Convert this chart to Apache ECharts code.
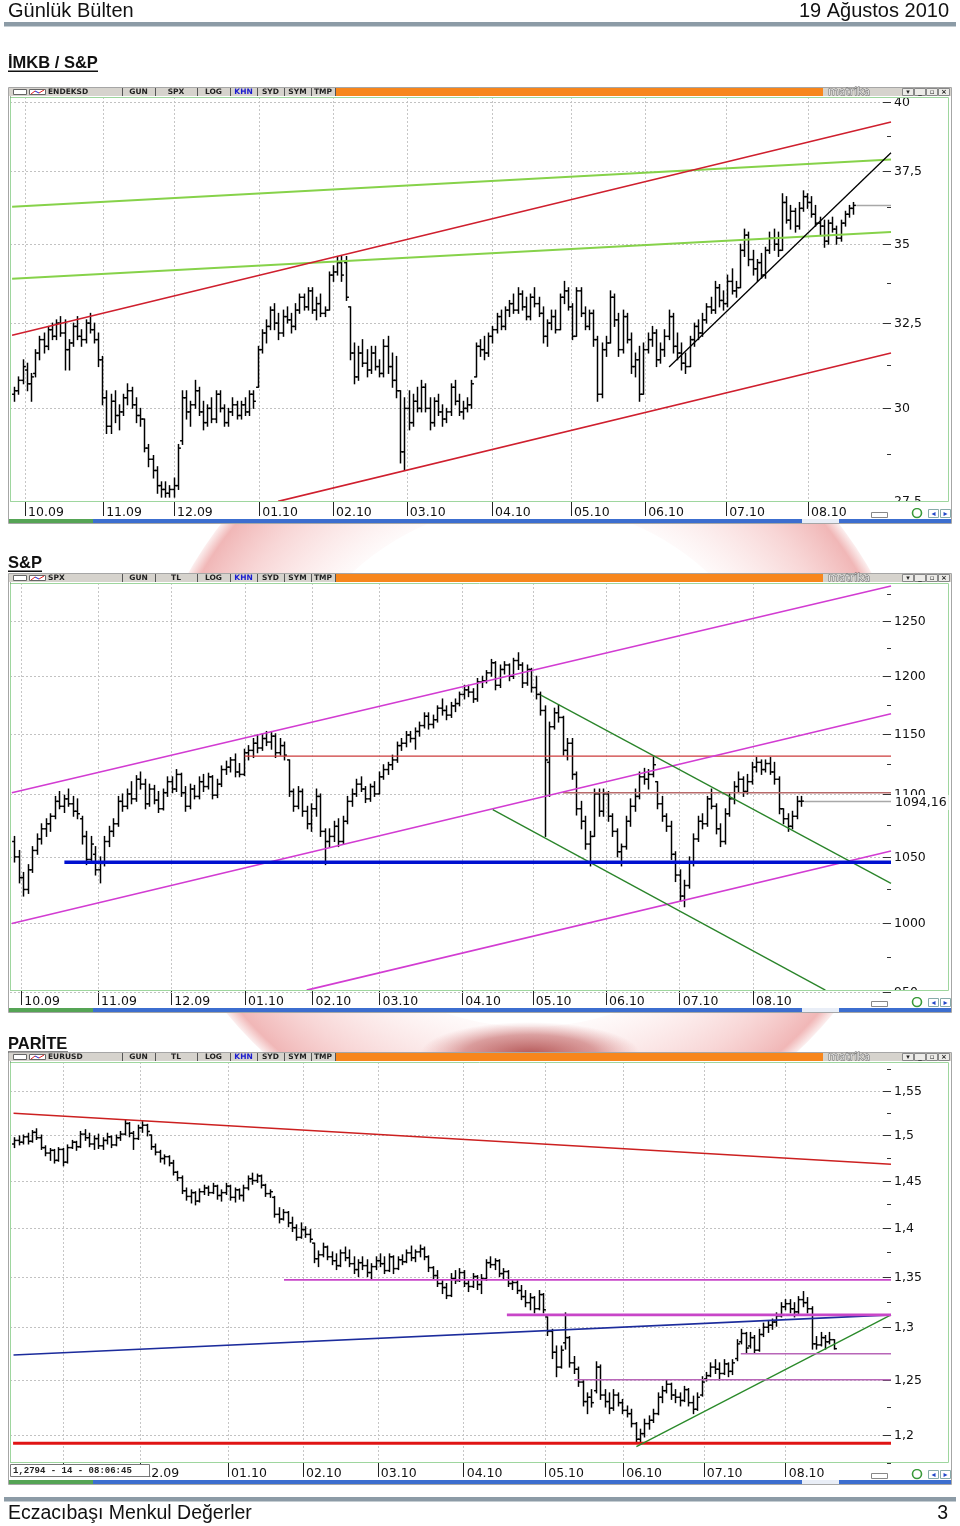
<!DOCTYPE html>
<html>
<head>
<meta charset="utf-8">
<script src="https://cdn.jsdelivr.net/npm/echarts@6/dist/echarts.min.js"></script>
<style>
html, body { margin: 0; padding: 0; background: #fff; }
#page { width: 960px; height: 1526px; }
</style>
</head>
<body>
<div id="page"></div>
<script>
// İMKB / S&P oranı, günlük bar [açılış, yüksek, düşük, kapanış]
var imkbBars = [
[30.4,30.6,30.2,30.5],[30.5,30.9,30.4,30.8],[30.8,31.4,30.7,31.2],[31.1,31.3,30.5,30.7],[30.7,31.0,30.2,30.9],
[31.0,31.7,30.9,31.6],[31.6,32.1,31.4,32.0],[32.0,32.2,31.6,31.8],[31.8,32.4,31.7,32.3],[32.3,32.5,32.0,32.1],
[32.1,32.6,32.0,32.5],[32.5,32.7,32.1,32.2],[32.2,32.6,31.1,31.7],[31.7,32.0,31.1,31.9],[31.9,32.5,31.8,32.4],
[32.4,32.7,32.0,32.1],[32.1,32.3,31.8,32.0],[32.0,32.6,31.9,32.5],[32.5,32.8,32.2,32.3],[32.3,32.5,31.9,32.0],
[32.0,32.2,31.2,31.4],[31.4,31.5,30.1,30.3],[30.3,30.5,29.3,29.5],[29.5,30.4,29.3,30.2],[30.2,30.5,29.6,29.8],
[29.8,30.1,29.4,29.9],[29.9,30.4,29.8,30.3],[30.3,30.7,30.1,30.5],[30.5,30.6,30.0,30.1],[30.1,30.3,29.6,29.8],
[29.8,30.0,29.5,29.7],[29.7,29.7,28.8,28.9],[28.9,29.0,28.4,28.6],[28.6,28.7,28.1,28.3],[28.3,28.4,27.7,27.9],
[27.9,28.0,27.6,27.8],[27.8,28.0,27.6,27.7],[27.7,27.9,27.6,27.8],[27.8,28.1,27.6,27.9],[27.9,29.0,27.8,28.9],
[29.1,30.5,29.0,30.3],[30.3,30.5,29.7,29.9],[29.9,30.2,29.5,30.1],[30.1,30.8,30.0,30.5],[30.5,30.6,29.8,29.9],
[29.9,30.2,29.4,29.6],[29.6,30.1,29.5,30.0],[30.0,30.3,29.6,29.7],[29.7,30.5,29.6,30.4],[30.4,30.5,29.9,30.0],
[30.0,30.1,29.5,29.6],[29.6,30.0,29.5,29.9],[29.9,30.3,29.8,30.1],[30.1,30.2,29.7,29.8],[29.8,30.2,29.7,30.1],
[30.1,30.3,29.8,29.9],[29.9,30.5,29.8,30.4],[30.4,30.5,30.0,30.2],[30.6,31.8,30.6,31.7],[31.7,32.3,31.6,32.2],
[32.2,32.6,31.9,32.4],[32.4,33.0,32.3,32.9],[32.9,33.1,32.3,32.5],[32.5,32.8,32.0,32.2],[32.2,32.9,32.1,32.7],
[32.7,33.0,32.5,32.6],[32.6,32.8,32.2,32.4],[32.4,33.1,32.3,32.9],[32.9,33.4,32.8,33.3],[33.3,33.4,32.9,33.0],
[33.0,33.6,32.9,33.5],[33.5,33.6,32.8,32.9],[32.9,33.3,32.6,33.1],[33.1,33.4,32.7,32.8],[32.8,33.0,32.7,32.9],
[32.9,34.1,32.9,34.0],[34.0,34.3,33.8,34.1],[34.1,34.6,34.0,34.4],[34.4,34.6,33.8,34.0],[34.4,34.6,33.2,33.3],
[33.0,33.0,31.4,31.6],[31.6,31.9,30.7,30.9],[30.9,31.8,30.8,31.6],[31.6,32.0,31.2,31.3],[31.3,31.7,30.9,31.1],
[31.1,31.8,31.0,31.6],[31.6,31.8,31.1,31.2],[31.2,31.4,30.9,31.0],[31.0,32.0,30.9,31.8],[31.8,32.1,31.0,31.2],
[31.2,31.6,30.6,30.8],[30.8,31.5,30.3,30.5],[30.5,30.5,28.5,28.8],[28.8,30.3,28.3,30.0],[30.0,30.5,29.4,29.6],
[29.6,30.4,29.5,30.2],[30.2,30.6,29.9,30.0],[30.0,30.8,29.9,30.6],[30.6,30.7,29.9,30.0],[30.0,30.3,29.4,29.6],
[29.6,30.3,29.5,30.2],[30.2,30.4,29.8,29.9],[29.9,30.1,29.5,29.7],[29.7,30.0,29.6,29.9],[29.9,30.7,29.8,30.6],
[30.6,30.8,30.1,30.2],[30.2,30.4,29.8,29.9],[29.9,30.2,29.7,30.0],[30.0,30.3,29.9,30.1],[30.1,30.8,30.0,30.7],
[30.9,31.9,30.9,31.8],[31.8,32.0,31.5,31.7],[31.7,32.1,31.4,31.6],[31.6,32.2,31.5,32.1],[32.1,32.4,31.9,32.3],
[32.3,32.8,32.2,32.7],[32.7,32.9,32.3,32.4],[32.4,33.0,32.3,32.9],[32.9,33.2,32.7,33.1],[33.1,33.4,32.8,32.9],
[32.9,33.6,32.8,33.4],[33.4,33.5,32.9,33.0],[33.0,33.3,32.6,32.7],[32.7,33.4,32.6,33.3],[33.3,33.6,33.0,33.1],
[33.1,33.3,32.7,32.8],[32.8,33.0,31.9,32.1],[32.1,32.6,31.8,32.5],[32.5,32.9,32.3,32.7],[32.7,32.9,32.2,32.3],
[32.3,33.4,32.3,33.3],[33.3,33.8,33.1,33.5],[33.5,33.6,32.9,33.0],[33.0,33.1,32.0,32.1],[32.1,33.6,32.1,33.5],
[33.5,33.6,32.7,32.8],[32.8,33.0,32.3,32.4],[32.4,32.9,32.3,32.8],[32.8,32.9,31.8,32.0],[32.0,32.1,30.2,30.4],
[30.4,31.9,30.3,31.7],[31.7,32.1,31.5,31.9],[31.9,33.5,31.9,33.3],[33.3,33.4,32.4,32.6],[32.6,32.8,31.5,31.7],
[31.7,32.9,31.6,32.7],[32.7,32.8,31.9,32.0],[32.0,32.2,31.0,31.2],[31.2,31.6,30.9,31.4],[31.4,31.8,30.2,30.4],
[30.4,31.9,30.4,31.7],[31.7,32.2,31.6,32.0],[32.0,32.4,31.8,32.2],[32.2,32.3,31.2,31.4],[31.4,31.9,31.3,31.7],
[31.7,32.3,31.5,32.1],[32.1,32.9,32.0,32.7],[32.7,32.8,31.6,31.8],[31.8,32.2,31.4,31.6],[31.6,31.9,31.1,31.3],
[31.3,31.6,31.0,31.2],[31.2,32.1,31.2,32.0],[32.0,32.5,31.8,32.4],[32.4,32.6,32.0,32.2],[32.2,32.8,32.1,32.6],
[32.6,33.1,32.5,33.0],[33.0,33.3,32.8,32.9],[32.9,33.8,32.8,33.6],[33.6,33.7,33.0,33.2],[33.2,33.5,32.9,33.1],
[33.1,34.0,33.0,33.8],[33.8,34.2,33.4,33.5],[33.5,33.8,33.3,33.6],[33.6,35.0,33.6,34.8],[34.8,35.5,34.6,35.3],
[35.3,35.4,34.3,34.5],[34.5,34.8,34.0,34.2],[34.2,34.5,33.8,34.4],[34.4,34.7,33.9,34.0],[34.0,34.9,33.9,34.8],
[34.8,35.4,34.7,35.2],[35.2,35.5,34.8,35.0],[35.0,35.4,34.6,34.8],[34.8,36.7,34.8,36.4],[36.4,36.6,35.7,35.8],
[35.8,36.3,35.5,36.1],[36.1,36.2,35.4,35.6],[35.6,36.4,35.5,36.2],[36.2,36.8,36.1,36.6],[36.6,36.7,36.2,36.4],
[36.4,36.6,35.9,36.0],[36.0,36.3,35.6,35.7],[35.7,35.9,35.3,35.6],[35.6,35.8,34.9,35.1],[35.1,35.8,35.0,35.7],
[35.7,35.9,35.4,35.5],[35.5,35.6,35.0,35.2],[35.2,35.8,35.1,35.7],[35.7,36.1,35.6,36.0],[36.0,36.3,35.9,36.2],
[36.2,36.4,36.0,36.3]
];

// S&P 500 günlük bar
var spxBars = [
[1062,1066,1046,1050],[1050,1055,1030,1034],[1034,1038,1020,1025],[1025,1044,1022,1040],[1040,1058,1038,1055],
[1055,1068,1052,1064],[1064,1076,1060,1072],[1072,1080,1066,1076],[1076,1084,1070,1082],[1082,1098,1080,1094],
[1094,1102,1088,1090],[1090,1099,1085,1096],[1096,1104,1090,1092],[1092,1098,1082,1086],[1086,1096,1080,1084],
[1080,1082,1060,1066],[1066,1070,1044,1048],[1048,1066,1046,1060],[1052,1058,1036,1040],[1040,1050,1030,1045],
[1045,1066,1043,1062],[1062,1074,1058,1070],[1070,1080,1066,1076],[1076,1098,1074,1094],[1094,1100,1086,1090],
[1090,1104,1088,1100],[1100,1110,1092,1096],[1096,1115,1094,1112],[1112,1118,1104,1108],[1108,1112,1088,1092],
[1092,1108,1090,1104],[1104,1107,1092,1095],[1095,1102,1085,1088],[1088,1104,1087,1101],[1101,1114,1098,1110],
[1110,1114,1101,1104],[1104,1120,1102,1116],[1116,1117,1098,1101],[1101,1106,1086,1090],[1090,1108,1088,1104],
[1104,1107,1096,1098],[1098,1114,1096,1110],[1110,1116,1102,1106],[1106,1117,1104,1114],[1114,1115,1096,1099],
[1099,1112,1097,1108],[1108,1123,1106,1120],[1120,1127,1116,1122],[1122,1130,1118,1128],[1128,1133,1114,1118],
[1118,1125,1114,1116],[1116,1137,1115,1134],[1134,1140,1128,1136],[1136,1146,1130,1142],[1142,1149,1134,1138],
[1138,1150,1136,1146],[1146,1152,1140,1143],[1143,1152,1137,1148],[1148,1150,1130,1134],[1134,1146,1132,1140],
[1140,1143,1128,1132],[1128,1128,1098,1102],[1102,1104,1086,1090],[1090,1106,1088,1102],[1102,1104,1082,1086],
[1086,1090,1072,1076],[1076,1092,1070,1088],[1088,1104,1082,1098],[1098,1100,1066,1070],[1070,1072,1044,1062],
[1062,1072,1058,1066],[1066,1078,1062,1074],[1074,1080,1058,1062],[1062,1082,1060,1078],[1078,1098,1076,1094],
[1094,1104,1090,1100],[1100,1112,1098,1108],[1108,1114,1102,1104],[1104,1106,1093,1096],[1096,1108,1094,1106],
[1106,1110,1098,1100],[1100,1118,1100,1114],[1114,1124,1112,1120],[1120,1126,1116,1124],[1124,1132,1120,1128],
[1128,1143,1126,1140],[1140,1146,1136,1142],[1142,1152,1139,1149],[1149,1152,1143,1146],[1146,1155,1137,1152],
[1152,1160,1148,1157],[1157,1168,1155,1165],[1165,1168,1154,1158],[1158,1166,1155,1162],[1162,1174,1160,1172],
[1172,1180,1166,1170],[1170,1174,1162,1166],[1166,1177,1164,1174],[1174,1180,1169,1176],[1176,1186,1174,1184],
[1184,1192,1180,1188],[1188,1192,1182,1186],[1186,1189,1177,1180],[1180,1198,1178,1195],[1195,1200,1190,1196],
[1196,1205,1194,1203],[1203,1215,1200,1212],[1212,1213,1188,1192],[1192,1210,1190,1206],[1206,1213,1202,1210],
[1210,1211,1196,1200],[1200,1216,1198,1214],[1214,1221,1206,1210],[1210,1212,1190,1194],[1194,1210,1192,1206],
[1206,1207,1186,1190],[1190,1200,1180,1184],[1184,1186,1166,1170],[1170,1174,1066,1128],[1126,1160,1098,1156],
[1156,1172,1154,1168],[1168,1175,1160,1164],[1164,1165,1132,1136],[1136,1146,1128,1142],[1142,1146,1112,1116],
[1116,1118,1083,1088],[1088,1094,1072,1078],[1078,1082,1056,1060],[1060,1070,1043,1066],[1066,1104,1066,1100],
[1100,1104,1082,1086],[1086,1104,1082,1100],[1100,1102,1078,1082],[1082,1084,1066,1070],[1070,1072,1050,1054],
[1054,1060,1043,1058],[1058,1082,1056,1078],[1078,1096,1074,1090],[1090,1104,1086,1098],[1098,1118,1096,1114],
[1114,1121,1108,1112],[1112,1120,1104,1116],[1116,1131,1114,1124],[1110,1110,1088,1092],[1092,1098,1078,1082],
[1082,1084,1070,1074],[1074,1078,1048,1052],[1052,1054,1031,1036],[1036,1040,1016,1020],[1020,1032,1012,1028],
[1028,1050,1026,1046],[1046,1068,1043,1064],[1064,1082,1062,1078],[1078,1084,1072,1076],[1076,1098,1074,1096],
[1096,1104,1088,1090],[1090,1092,1068,1072],[1072,1076,1058,1062],[1062,1088,1060,1084],[1084,1100,1082,1096],
[1096,1110,1092,1106],[1106,1118,1102,1112],[1112,1114,1098,1102],[1102,1116,1100,1110],[1110,1126,1108,1122],
[1122,1130,1118,1126],[1126,1128,1116,1120],[1120,1128,1118,1125],[1125,1130,1116,1118],[1118,1126,1108,1112],
[1112,1114,1084,1088],[1088,1088,1076,1080],[1080,1084,1070,1074],[1074,1086,1072,1082],[1082,1098,1080,1094],
[1094,1098,1090,1094.16]
];

// EUR/USD günlük bar
var eurBars = [
[1.490,1.497,1.486,1.494],[1.494,1.499,1.489,1.492],[1.492,1.500,1.490,1.498],[1.498,1.502,1.490,1.493],[1.493,1.505,1.492,1.503],
[1.503,1.507,1.495,1.497],[1.497,1.500,1.484,1.486],[1.486,1.488,1.477,1.480],[1.480,1.485,1.472,1.483],[1.483,1.484,1.469,1.472],
[1.472,1.486,1.471,1.484],[1.484,1.485,1.466,1.470],[1.470,1.489,1.469,1.486],[1.486,1.494,1.485,1.492],[1.492,1.493,1.483,1.487],
[1.487,1.504,1.486,1.501],[1.501,1.506,1.494,1.497],[1.497,1.502,1.487,1.490],[1.490,1.499,1.484,1.496],[1.496,1.501,1.485,1.488],
[1.488,1.497,1.484,1.494],[1.494,1.502,1.490,1.498],[1.498,1.499,1.486,1.489],[1.489,1.500,1.488,1.497],[1.497,1.504,1.494,1.501],
[1.501,1.517,1.500,1.513],[1.513,1.514,1.498,1.502],[1.502,1.504,1.484,1.496],[1.496,1.511,1.495,1.508],[1.508,1.515,1.503,1.511],
[1.511,1.512,1.499,1.504],[1.500,1.500,1.484,1.487],[1.487,1.490,1.478,1.481],[1.481,1.483,1.470,1.474],[1.474,1.478,1.468,1.476],
[1.476,1.477,1.466,1.469],[1.469,1.472,1.456,1.459],[1.459,1.460,1.450,1.453],[1.453,1.455,1.436,1.439],[1.439,1.442,1.429,1.433],
[1.433,1.440,1.426,1.437],[1.437,1.438,1.424,1.428],[1.428,1.441,1.427,1.438],[1.438,1.445,1.435,1.442],[1.442,1.444,1.434,1.437],
[1.437,1.447,1.436,1.444],[1.444,1.445,1.430,1.434],[1.434,1.440,1.428,1.437],[1.437,1.447,1.435,1.444],[1.444,1.445,1.429,1.432],
[1.432,1.442,1.427,1.440],[1.440,1.441,1.430,1.434],[1.434,1.445,1.428,1.442],[1.442,1.455,1.440,1.452],[1.452,1.458,1.446,1.450],
[1.450,1.457,1.448,1.455],[1.455,1.456,1.442,1.445],[1.445,1.446,1.433,1.436],[1.436,1.440,1.432,1.438],[1.432,1.433,1.411,1.414],
[1.414,1.421,1.405,1.409],[1.409,1.419,1.408,1.416],[1.416,1.417,1.401,1.405],[1.405,1.411,1.396,1.400],[1.400,1.403,1.387,1.390],
[1.390,1.405,1.389,1.398],[1.398,1.401,1.390,1.393],[1.393,1.398,1.385,1.388],[1.384,1.384,1.364,1.368],[1.368,1.376,1.360,1.372],
[1.372,1.384,1.370,1.380],[1.380,1.381,1.367,1.370],[1.370,1.375,1.362,1.366],[1.366,1.373,1.357,1.361],[1.361,1.377,1.360,1.374],
[1.374,1.380,1.366,1.369],[1.369,1.377,1.360,1.363],[1.363,1.370,1.353,1.357],[1.357,1.367,1.350,1.364],[1.364,1.370,1.357,1.361],
[1.361,1.367,1.350,1.354],[1.354,1.363,1.347,1.360],[1.360,1.370,1.357,1.366],[1.366,1.373,1.360,1.363],[1.363,1.370,1.353,1.356],
[1.356,1.373,1.355,1.370],[1.370,1.371,1.353,1.358],[1.358,1.370,1.357,1.367],[1.367,1.372,1.362,1.365],[1.365,1.377,1.364,1.374],
[1.374,1.381,1.366,1.369],[1.369,1.377,1.365,1.375],[1.375,1.382,1.370,1.378],[1.378,1.380,1.367,1.370],[1.370,1.371,1.355,1.359],
[1.359,1.360,1.347,1.351],[1.351,1.356,1.340,1.343],[1.343,1.346,1.333,1.339],[1.339,1.343,1.328,1.331],[1.331,1.353,1.330,1.348],
[1.348,1.356,1.343,1.346],[1.346,1.358,1.345,1.354],[1.354,1.356,1.340,1.343],[1.343,1.346,1.335,1.340],[1.340,1.353,1.339,1.350],
[1.350,1.351,1.337,1.342],[1.342,1.352,1.333,1.348],[1.348,1.367,1.346,1.364],[1.364,1.370,1.359,1.362],[1.362,1.368,1.357,1.366],
[1.366,1.367,1.350,1.353],[1.353,1.358,1.347,1.355],[1.355,1.356,1.340,1.343],[1.343,1.347,1.337,1.344],[1.344,1.346,1.333,1.336],
[1.336,1.341,1.327,1.330],[1.330,1.336,1.320,1.324],[1.324,1.333,1.317,1.329],[1.329,1.330,1.314,1.318],[1.318,1.336,1.317,1.332],
[1.332,1.333,1.314,1.317],[1.310,1.310,1.292,1.296],[1.296,1.298,1.270,1.276],[1.276,1.282,1.253,1.262],[1.262,1.282,1.261,1.278],
[1.285,1.314,1.279,1.290],[1.290,1.291,1.262,1.266],[1.266,1.272,1.256,1.260],[1.260,1.262,1.244,1.248],[1.248,1.250,1.226,1.230],
[1.230,1.238,1.219,1.234],[1.234,1.241,1.225,1.229],[1.240,1.267,1.238,1.262],[1.262,1.264,1.232,1.236],[1.236,1.241,1.225,1.230],
[1.230,1.238,1.219,1.224],[1.224,1.241,1.222,1.236],[1.236,1.238,1.226,1.229],[1.229,1.232,1.219,1.222],[1.222,1.226,1.216,1.219],
[1.219,1.223,1.207,1.210],[1.210,1.211,1.193,1.196],[1.196,1.205,1.193,1.201],[1.201,1.214,1.198,1.210],[1.210,1.217,1.205,1.213],
[1.213,1.223,1.211,1.219],[1.219,1.238,1.218,1.234],[1.234,1.244,1.229,1.240],[1.240,1.250,1.238,1.246],[1.246,1.247,1.232,1.236],
[1.236,1.241,1.229,1.234],[1.234,1.238,1.226,1.231],[1.231,1.244,1.230,1.241],[1.241,1.242,1.226,1.229],[1.229,1.235,1.219,1.223],
[1.223,1.238,1.222,1.234],[1.236,1.253,1.235,1.248],[1.251,1.257,1.249,1.254],[1.254,1.266,1.253,1.262],[1.262,1.269,1.256,1.260],
[1.260,1.266,1.250,1.256],[1.256,1.269,1.255,1.265],[1.265,1.266,1.253,1.258],[1.258,1.269,1.255,1.266],[1.270,1.288,1.268,1.284],
[1.286,1.298,1.284,1.294],[1.294,1.295,1.275,1.280],[1.282,1.295,1.280,1.290],[1.290,1.292,1.275,1.278],[1.278,1.298,1.277,1.293],
[1.293,1.304,1.291,1.300],[1.300,1.306,1.295,1.302],[1.302,1.308,1.298,1.305],[1.305,1.314,1.301,1.311],[1.311,1.324,1.310,1.320],
[1.320,1.327,1.317,1.323],[1.323,1.327,1.314,1.318],[1.318,1.324,1.310,1.315],[1.315,1.330,1.313,1.327],[1.327,1.335,1.320,1.324],
[1.324,1.329,1.314,1.318],[1.318,1.320,1.279,1.284],[1.284,1.291,1.279,1.283],[1.283,1.295,1.282,1.290],[1.290,1.292,1.279,1.286],
[1.286,1.295,1.284,1.288],[1.288,1.288,1.279,1.2794]
];

// ay başları (bar sırası) ve etiketleri
var monthNames = ['10.09','11.09','12.09','01.10','02.10','03.10','04.10','05.10','06.10','07.10','08.10'];
var imkbMonthAt = [3.6, 22.2, 39.1, 59.4, 77.0, 94.6, 114.9, 133.7, 151.4, 170.7, 190.2];
var spxMonthAt = [2.5, 19.6, 35.9, 52.3, 67.3, 82.2, 100.6, 116.3, 132.6, 149.0, 165.3];
var eurMonthNames = ['11.09','12.09','01.10','02.10','03.10','04.10','05.10','06.10','07.10','08.10'];
var eurMonthAt = [12.0, 29.6, 49.5, 66.5, 83.5, 103.0, 121.5, 139.2, 157.5, 176.1];

// fiyat ekseni etiketleri
var imkbTicks = [27.5, 30, 32.5, 35, 37.5, 40];
var imkbMinor = [28.75, 31.25, 33.75, 36.25, 38.75];
var spxTicks = [950, 1000, 1050, 1100, 1150, 1200, 1250];
var spxMinor = [975, 1025, 1075, 1125, 1175, 1225, 1275];
var eurTicks = [1.2, 1.25, 1.3, 1.35, 1.4, 1.45, 1.5, 1.55];
var eurMinor = [1.175, 1.225, 1.275, 1.325, 1.375, 1.425, 1.475, 1.525, 1.575];

// trend çizgileri [bar, değer]
var imkbChannelTop = [[0.5, 32.13], [210, 39.26]];
var imkbChannelLow = [[63.9, 27.49], [210, 31.6]];
var imkbGreenTop = [[0.5, 36.25], [210, 37.9]];
var imkbGreenLow = [[0.5, 33.88], [210, 35.4]];
var imkbUptrend = [[157.1, 31.19], [210, 38.14]];
var imkbLast = [[201, 36.3]];

var spxChannelTop = [[0.4, 1101], [196, 1282.8]];
var spxChannelMid = [[0.4, 999.5], [196, 1167.2]];
var spxChannelLow = [[66.0, 951.5], [196, 1054.6]];
var spxDownTop = [[118.1, 1183.3], [196, 1029.6]];
var spxDownLow = [[107.4, 1087.3], [181.4, 951.5]];
var spxSupport = [[12.1, 1045.9], [196, 1045.9]];
var spxResist1 = [[52.2, 1131.1], [196, 1131.1]];
var spxResist2 = [[123.0, 1101], [196, 1101]];
var spxLast = [[176, 1094.16]];

var eurFall = [[0.8, 1.5245], [200, 1.4677]];
var eurFloor = [[0.7, 1.1925], [200, 1.1925]];
var eurBlue = [[0.8, 1.2734], [200, 1.312]];
var eurGreen = [[142.2, 1.1894], [200, 1.312]];
var eurLevel1 = [[62.2, 1.3467], [200, 1.3467]];
var eurLevel2 = [[112.8, 1.312], [200, 1.312]];
var eurLevel3 = [[165.9, 1.2746], [200, 1.2746]];
var eurLevel4 = [[128.1, 1.2502], [200, 1.2502]];

var chart = echarts.init(document.getElementById('page'));
var FONT = '"DejaVu Sans", sans-serif';

function withIndex(rows) {
    return rows.map(function (r, i) { return [i + 1, r[0], r[1], r[2], r[3]]; });
}

// OHLC çubuğu: dikey yüksek-düşük, solda açılış, sağda kapanış
function ohlcItem(params, api) {
    var x = api.value(0);
    var o = api.coord([x, api.value(1)]);
    var h = api.coord([x, api.value(2)]);
    var l = api.coord([x, api.value(3)]);
    var c = api.coord([x, api.value(4)]);
    var px = Math.round(h[0]) + 0.5;
    var st = { stroke: '#000', lineWidth: 1.5 };
    return {
        type: 'group',
        children: [
            { type: 'line', shape: { x1: px, y1: h[1] - 0.5, x2: px, y2: l[1] + 0.5 }, style: st },
            { type: 'line', shape: { x1: px - 2.4, y1: o[1], x2: px, y2: o[1] }, style: st },
            { type: 'line', shape: { x1: px, y1: c[1], x2: px + 2.4, y2: c[1] }, style: st }
        ]
    };
}

function fmtComma(v) { return String(v).replace('.', ','); }

// sağ eksen: kesikli yatay çizgi, çentik ve etiket
function yMarkItem(params, api) {
    var v = api.value(1);
    var major = api.value(2) === 1;
    var cs = params.coordSys;
    var right = cs.x + cs.width;
    var y = Math.round(api.coord([0, v])[1]) + 0.5;
    var kids = [];
    if (major) {
        kids.push({ type: 'line', shape: { x1: cs.x, y1: y, x2: right - 8, y2: y },
            style: { stroke: '#c2c2c2', lineWidth: 1, lineDash: [2, 2] } });
        kids.push({ type: 'line', shape: { x1: right - 8, y1: y, x2: right, y2: y },
            style: { stroke: '#333', lineWidth: 1 } });
        kids.push({ type: 'text', x: right + 3, y: y,
            style: { text: fmtComma(v), font: '12.5px ' + FONT, fill: '#111', align: 'left', verticalAlign: 'middle' } });
    } else {
        kids.push({ type: 'line', shape: { x1: right - 4, y1: y, x2: right, y2: y },
            style: { stroke: '#333', lineWidth: 1 } });
    }
    return { type: 'group', children: kids };
}

function markData(major, minor) {
    return major.map(function (v) { return [0, v, 1]; })
        .concat(minor.map(function (v) { return [0, v, 0]; }));
}

function lastPriceItem(withLabel) {
    return function (params, api) {
        var p = api.coord([api.value(0), api.value(1)]);
        var cs = params.coordSys;
        var right = cs.x + cs.width;
        var y = Math.round(p[1]) + 0.5;
        var kids = [{ type: 'line', shape: { x1: p[0] + 3, y1: y, x2: right, y2: y },
            style: { stroke: '#a8a8a8', lineWidth: 1.6 } }];
        if (withLabel) {
            kids.push({ type: 'text', x: right + 2, y: y + 1, z2: 10,
                style: { text: fmtComma(api.value(1)), font: '12.5px ' + FONT, fill: '#111',
                    align: 'left', verticalAlign: 'middle', backgroundColor: '#fff', padding: [2, 2, 0, 2] } });
        }
        return { type: 'group', children: kids };
    };
}

function xAxisFor(gi, max, at, names) {
    return {
        type: 'value', gridIndex: gi, min: 0, max: max,
        axisLine: { show: false, onZero: false },
        axisTick: { show: true, customValues: at, length: 15, lineStyle: { color: '#222' } },
        axisLabel: {
            customValues: at, margin: 5, align: 'left', padding: [0, 0, 0, 3],
            color: '#111', fontFamily: FONT, fontSize: 12.5,
            formatter: function (v) {
                for (var i = 0; i < at.length; i++) { if (Math.abs(at[i] - v) < 0.05) return names[i]; }
                return '';
            }
        },
        splitLine: { show: true, lineStyle: { color: '#c6c6c6', type: [2, 2] } }
    };
}

function yAxisFor(gi, min, max) {
    return {
        type: 'log', logBase: 10, gridIndex: gi, position: 'right', min: min, max: max,
        axisLine: { show: true, lineStyle: { color: '#333', width: 1 } },
        axisTick: { show: false }, axisLabel: { show: false }, splitLine: { show: false }
    };
}

function trend(gi, data, color, width) {
    return { type: 'line', xAxisIndex: gi, yAxisIndex: gi, data: data, symbol: 'none', silent: true,
        z: 4, lineStyle: { color: color, width: width } };
}

function ohlc(gi, rows) {
    return { type: 'custom', xAxisIndex: gi, yAxisIndex: gi, data: withIndex(rows), renderItem: ohlcItem,
        encode: { x: 0, y: [1, 2, 3, 4] }, silent: true, z: 3 };
}

function yMarks(gi, major, minor) {
    return { type: 'custom', xAxisIndex: gi, yAxisIndex: gi, data: markData(major, minor), renderItem: yMarkItem,
        encode: { x: 0, y: 1 }, clip: false, silent: true, z: 1 };
}

// pencere çerçevesi, araç çubuğu ve kaydırma çubuğu
function chrome(T, B, sym, second) {
    var g = [];
    function rect(x, y, w, h, fill, stroke, z) {
        g.push({ type: 'rect', silent: true, z: z || 5, shape: { x: x, y: y, width: w, height: h },
            style: { fill: fill || 'none', stroke: stroke || null, lineWidth: 1 } });
    }
    function line(x1, y1, x2, y2, color, w) {
        g.push({ type: 'line', silent: true, z: 6, shape: { x1: x1, y1: y1, x2: x2, y2: y2 },
            style: { stroke: color, lineWidth: w || 1 } });
    }
    function text(x, y, s, font, fill, align, extra) {
        var st = { text: s, font: font, fill: fill, align: align || 'left', verticalAlign: 'middle' };
        if (extra) { for (var k in extra) st[k] = extra[k]; }
        g.push({ type: 'text', silent: true, z: 7, x: x, y: y, style: st });
    }
    rect(8, T - 1, 944, B - T + 24, '#fff', null, -5);
    rect(9, T, 942, 8, '#d6d3cd');
    rect(335, T, 488, 8, '#f7861c');
    rect(13.5, T + 1.5, 13, 5, '#fff', '#666');
    rect(29.5, T + 1.5, 16, 5, '#fff', '#666');
    line(31, T + 6, 35, T + 3, '#d22', 1);
    line(35, T + 3, 39, T + 5, '#22c', 1);
    line(39, T + 5, 44, T + 2, '#d22', 1);
    text(48, T + 4.5, sym, 'bold 7.5px ' + FONT, '#222');
    var seps = [122, 155, 197, 230, 257, 284, 311, 335];
    seps.forEach(function (x) { line(x + 0.5, T, x + 0.5, T + 8, '#555', 1); });
    ['GUN', second, 'LOG', 'KHN', 'SYD', 'SYM', 'TMP'].forEach(function (n, i) {
        text((seps[i] + seps[i + 1]) / 2, T + 4.5, n, 'bold 7.5px ' + FONT, n === 'KHN' ? '#1a1ad0' : '#222', 'center');
    });
    text(828, T + 4, 'matrika', '11px ' + FONT, '#e2e2e2', 'left', { stroke: '#5c5c5c', lineWidth: 0.8 });
    ['\u25BE', '_', '\u25AB', '\u00D7'].forEach(function (s, i) {
        var bx = 902 + i * 12;
        rect(bx + 0.5, T + 0.5, 11, 7, '#ecebe8', '#888');
        text(bx + 6, T + 4, s, 'bold 7px ' + FONT, '#222', 'center');
    });
    rect(10.5, T + 9.5, 938, B - T - 9, null, '#9ed69e');
    rect(892, B + 1, 56, 6, '#fff', null, 20);
    rect(8.5, T - 0.5, 943, B - T + 23, null, '#a6a6a6');
    rect(9, B + 18, 942, 4, '#3c6ecf');
    rect(9, B + 18, 84, 4, '#55a455');
    rect(802, B + 18, 37, 4, '#e9eef7');
    rect(871.5, B + 11.5, 16, 5, '#fff', '#888');
    g.push({ type: 'circle', silent: true, z: 6, shape: { cx: 917, cy: B + 12, r: 4.5 },
        style: { fill: 'none', stroke: '#3a9a3a', lineWidth: 1.6 } });
    rect(928.5, B + 8.5, 10, 8, '#fff', '#8aa');
    rect(940.5, B + 8.5, 10, 8, '#fff', '#8aa');
    text(933.5, B + 12.5, '\u25C2', '8px ' + FONT, '#2347c8', 'center');
    text(945.5, B + 12.5, '\u25B8', '8px ' + FONT, '#2347c8', 'center');
    return g;
}

// arka plandaki soluk logo
var watermark = [
    { type: 'ring', silent: true, z: -10, shape: { cx: 530, cy: 765, r: 392, r0: 262 },
        style: { fill: new echarts.graphic.RadialGradient(0.5, 0.5, 0.5, [
            { offset: 0, color: 'rgba(230,90,90,0)' },
            { offset: 0.67, color: 'rgba(235,120,120,0.04)' },
            { offset: 0.86, color: 'rgba(225,85,85,0.24)' },
            { offset: 0.97, color: 'rgba(215,55,55,0.36)' },
            { offset: 1, color: 'rgba(215,55,55,0.08)' }
        ]) } },
    { type: 'circle', silent: true, z: -9, x: 530, y: 1054, scaleX: 110, scaleY: 32, shape: { cx: 0, cy: 0, r: 1 },
        style: { fill: new echarts.graphic.RadialGradient(0.5, 0.5, 0.5, [
            { offset: 0, color: 'rgba(150,25,25,0.7)' },
            { offset: 0.6, color: 'rgba(170,40,40,0.42)' },
            { offset: 1, color: 'rgba(200,80,80,0)' }
        ]) } }
];

var page = [
    { type: 'text', silent: true, x: 8, y: 11, style: { text: 'Günlük Bülten', font: '20px "Liberation Sans", Arial', fill: '#111', align: 'left', verticalAlign: 'middle' } },
    { type: 'text', silent: true, x: 949, y: 11, style: { text: '19 Ağustos 2010', font: '20px "Liberation Sans", Arial', fill: '#111', align: 'right', verticalAlign: 'middle' } },
    { type: 'rect', silent: true, shape: { x: 4, y: 22, width: 952, height: 4.5 }, style: { fill: '#8c9ba6' } },
    { type: 'text', silent: true, x: 8, y: 63, style: { text: 'İMKB / S&P', font: 'bold 16.5px "Liberation Sans", Arial', fill: '#111', align: 'left', verticalAlign: 'middle' } },
    { type: 'rect', silent: true, shape: { x: 8, y: 70.5, width: 90, height: 1.5 }, style: { fill: '#111' } },
    { type: 'text', silent: true, x: 8, y: 563, style: { text: 'S&P', font: 'bold 16.5px "Liberation Sans", Arial', fill: '#111', align: 'left', verticalAlign: 'middle' } },
    { type: 'rect', silent: true, shape: { x: 8, y: 570.5, width: 34, height: 1.5 }, style: { fill: '#111' } },
    { type: 'text', silent: true, x: 8, y: 1044, style: { text: 'PARİTE', font: 'bold 16.5px "Liberation Sans", Arial', fill: '#111', align: 'left', verticalAlign: 'middle' } },
    { type: 'rect', silent: true, shape: { x: 8, y: 1051.5, width: 60, height: 1.5 }, style: { fill: '#111' } },
    { type: 'rect', silent: true, shape: { x: 4, y: 1497, width: 952, height: 4.5 }, style: { fill: '#8c9ba6' } },
    { type: 'text', silent: true, x: 8, y: 1514, style: { text: 'Eczacıbaşı Menkul Değerler', font: '19.5px "Liberation Sans", Arial', fill: '#111', align: 'left', verticalAlign: 'middle' } },
    { type: 'text', silent: true, x: 948, y: 1514, style: { text: '3', font: '19.5px "Liberation Sans", Arial', fill: '#111', align: 'right', verticalAlign: 'middle' } },
    { type: 'rect', silent: true, z: 30, shape: { x: 10.5, y: 1464.5, width: 139, height: 12 }, style: { fill: '#fff', stroke: '#777', lineWidth: 1 } },
    { type: 'text', silent: true, z: 31, x: 13, y: 1470.5, style: { text: '1,2794 - 14 - 08:06:45', font: 'bold 9px "Liberation Mono", monospace', fill: '#222', align: 'left', verticalAlign: 'middle' } }
];

var option = {
    animation: false,
    backgroundColor: '#fff',
    textStyle: { fontFamily: FONT },
    grid: [
        { left: 10, top: 97, width: 881, height: 404, show: true, backgroundColor: '#fff', borderWidth: 0 },
        { left: 10, top: 583, width: 881, height: 407, show: true, backgroundColor: '#fff', borderWidth: 0 },
        { left: 10, top: 1062, width: 881, height: 400, show: true, backgroundColor: '#fff', borderWidth: 0 }
    ],
    xAxis: [
        xAxisFor(0, 210, imkbMonthAt, monthNames),
        xAxisFor(1, 196, spxMonthAt, monthNames),
        xAxisFor(2, 200, eurMonthAt, eurMonthNames)
    ],
    yAxis: [
        yAxisFor(0, 27.5, 40.19),
        yAxisFor(1, 951.6, 1285.6),
        yAxisFor(2, 1.1759, 1.5838)
    ],
    graphic: { elements: watermark.concat(page, chrome(88, 501, 'ENDEKSD', 'SPX'), chrome(574, 990, 'SPX', 'TL'), chrome(1053, 1462, 'EURUSD', 'TL')) },
    series: [
        yMarks(0, imkbTicks, imkbMinor),
        ohlc(0, imkbBars),
        trend(0, imkbGreenTop, '#86d24a', 2),
        trend(0, imkbGreenLow, '#86d24a', 2),
        trend(0, imkbChannelTop, '#cf1f2e', 1.6),
        trend(0, imkbChannelLow, '#cf1f2e', 1.6),
        trend(0, imkbUptrend, '#000', 1.3),
        { type: 'custom', xAxisIndex: 0, yAxisIndex: 0, data: imkbLast, renderItem: lastPriceItem(false), clip: false, silent: true, z: 2 },

        yMarks(1, spxTicks, spxMinor),
        ohlc(1, spxBars),
        trend(1, spxResist1, '#cc3b3b', 1.3),
        trend(1, spxResist2, '#b86a6a', 1.6),
        trend(1, spxChannelTop, '#d23cd2', 1.6),
        trend(1, spxChannelMid, '#d23cd2', 1.6),
        trend(1, spxChannelLow, '#d23cd2', 1.6),
        trend(1, spxDownTop, '#2a842a', 1.3),
        trend(1, spxDownLow, '#2a842a', 1.3),
        trend(1, spxSupport, '#0010d0', 3.5),
        { type: 'custom', xAxisIndex: 1, yAxisIndex: 1, data: spxLast, renderItem: lastPriceItem(true), clip: false, silent: true, z: 6 },

        yMarks(2, eurTicks, eurMinor),
        ohlc(2, eurBars),
        trend(2, eurFall, '#cc2020', 1.6),
        trend(2, eurFloor, '#e01414', 3),
        trend(2, eurBlue, '#1c2c9c', 1.6),
        trend(2, eurGreen, '#2a8a2a', 1.3),
        trend(2, eurLevel1, '#c846c8', 1.8),
        trend(2, eurLevel2, '#c846c8', 2.6),
        trend(2, eurLevel3, '#b866b8', 1.4),
        trend(2, eurLevel4, '#b866b8', 1.4)
    ]
};

chart.setOption(option);
</script>
</body>
</html>
